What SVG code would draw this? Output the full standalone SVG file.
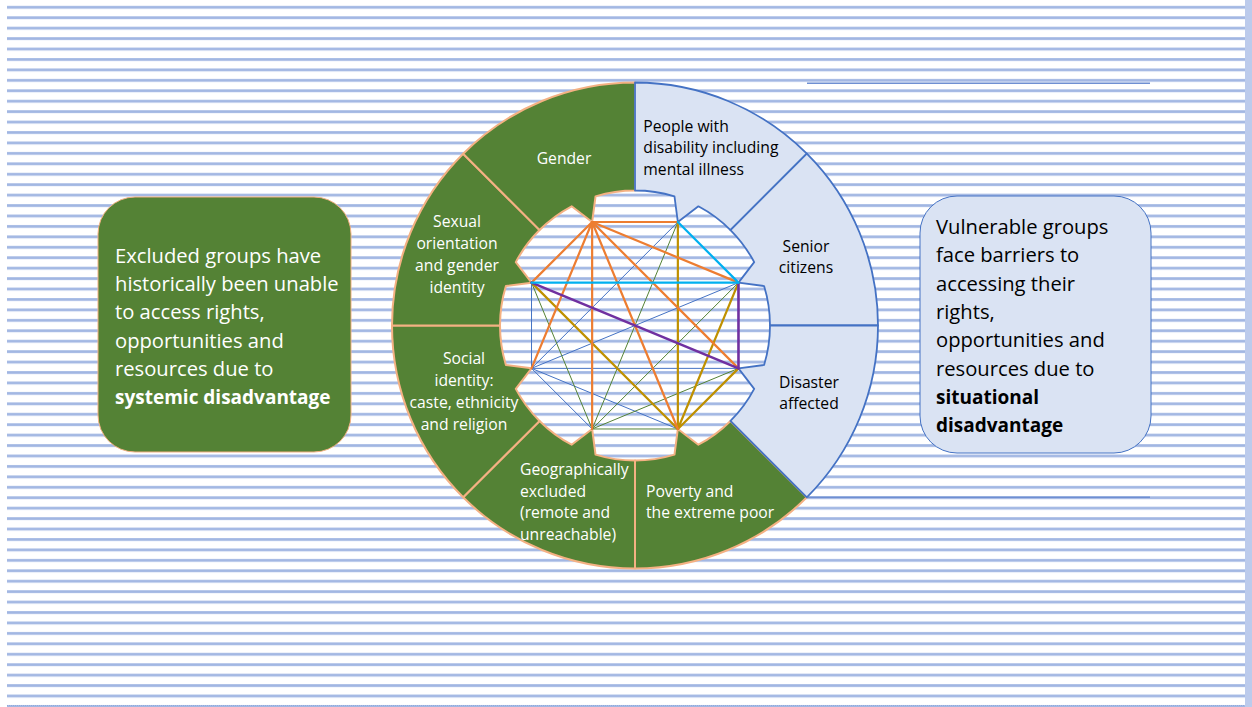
<svg xmlns="http://www.w3.org/2000/svg" width="1252" height="707" viewBox="0 0 1252 707">
  <defs>
    <pattern id="stripes" patternUnits="userSpaceOnUse" x="0" y="5.8" width="20" height="10.435">
      <rect x="0" y="0" width="20" height="3" fill="#b2c4e9"/>
      <rect x="0" y="0.6" width="20" height="1.8" fill="#a1b6e2"/>
    </pattern>
    <style>
      .g-sec { fill:#548235; stroke:#f4b183; stroke-width:2; stroke-linejoin:round; }
      .b-sec { fill:#dae3f3; stroke:#4472c4; stroke-width:1.8; stroke-linejoin:round; }
      .lbl { font-family:"Open Sans","Liberation Sans",sans-serif; font-size:15.7px; }
      .w { fill:#ffffff; }
      .k { fill:#000000; }
      .box-t { font-family:"Open Sans","Liberation Sans",sans-serif; font-size:20.2px; }
      .bold { font-weight:bold; font-size:19px; }
      .mid { text-anchor:middle; }
      .link { fill:none; stroke-linecap:round; }
      .thick { stroke-width:2.2; }
      .thin { stroke-width:1; }
      .or { stroke:#ed7d31; }
      .cy { stroke:#00b0f0; }
      .pu { stroke:#7030a0; stroke-width:2.6; }
      .go { stroke:#bf9000; }
      .bl { stroke:#4472c4; }
      .gr { stroke:#548235; }
      .rule { stroke:#6f8fd2; stroke-width:1.6; fill:none; }
    </style>
  </defs>

  <!-- page background with horizontal stripes -->
  <rect x="0" y="0" width="1252" height="707" fill="#ffffff"/>
  <rect x="7" y="0" width="1238" height="707" fill="url(#stripes)"/>
  <rect x="1245" y="0" width="7" height="707" fill="#bccbec"/>
  <line x1="7" y1="705.5" x2="1245" y2="705.5" stroke="#8faadc" stroke-width="1" stroke-dasharray="1 1"/>

  <!-- horizontal rules on the right -->
  <g id="rules">
    <line class="rule" x1="807" y1="83.3" x2="1150" y2="83.3"/>
    <line class="rule" x1="807" y1="497.3" x2="1150" y2="497.3"/>
  </g>

  <!-- left explanation box -->
  <g id="box-excluded">
    <rect x="98" y="197" width="253" height="255" rx="37" ry="37" fill="#548235" stroke="#f4b183" stroke-width="1"/>
    <text class="box-t w" x="115" y="262.7">Excluded groups have</text>
    <text class="box-t w" x="115" y="291">historically been unable</text>
    <text class="box-t w" x="115" y="319.3">to access rights,</text>
    <text class="box-t w" x="115" y="347.7">opportunities and</text>
    <text class="box-t w" x="115" y="376">resources due to</text>
    <text class="box-t w bold" x="115" y="404.3">systemic disadvantage</text>
  </g>

  <!-- right explanation box -->
  <g id="box-vulnerable">
    <rect x="920" y="196" width="231" height="257" rx="37" ry="37" fill="#dae3f3" stroke="#4472c4" stroke-width="1"/>
    <text class="box-t k" x="936" y="234">Vulnerable groups</text>
    <text class="box-t k" x="936" y="262.3">face barriers to</text>
    <text class="box-t k" x="936" y="290.6">accessing their</text>
    <text class="box-t k" x="936" y="318.9">rights,</text>
    <text class="box-t k" x="936" y="347.2">opportunities and</text>
    <text class="box-t k" x="936" y="375.5">resources due to</text>
    <text class="box-t k bold" x="936" y="403.8">situational</text>
    <text class="box-t k bold" x="936" y="432.1">disadvantage</text>
  </g>

  <!-- ring segments: excluded groups (green) -->
  <g id="seg-poverty">
    <path class="g-sec" d="M806.83,497.33 A243,243 0 0 1 635,568.5 L635,460.5 A135,135 0 0 0 674.47,454.6 L677.86,428.98 L698.38,444.7 A135,135 0 0 0 730.46,420.96 Z"/>
    <text class="lbl w" x="646" y="496.7">Poverty and</text>
    <text class="lbl w" x="646" y="518.3">the extreme poor</text>
  </g>
  <g id="seg-geographic">
    <path class="g-sec" d="M635,568.5 A243,243 0 0 1 463.17,497.33 L539.54,420.96 A135,135 0 0 0 571.62,444.7 L592.14,428.98 L595.53,454.6 A135,135 0 0 0 635,460.5 Z"/>
    <text class="lbl w" x="520" y="475">Geographically</text>
    <text class="lbl w" x="520" y="496.7">excluded</text>
    <text class="lbl w" x="520" y="518.3">(remote and</text>
    <text class="lbl w" x="520" y="540">unreachable)</text>
  </g>
  <g id="seg-social">
    <path class="g-sec" d="M463.17,497.33 A243,243 0 0 1 392,325.5 L500,325.5 A135,135 0 0 0 505.9,364.97 L531.52,368.36 L515.8,388.88 A135,135 0 0 0 539.54,420.96 Z"/>
    <text class="lbl w mid" x="464" y="364">Social</text>
    <text class="lbl w mid" x="464" y="386">identity:</text>
    <text class="lbl w mid" x="464" y="408.3">caste, ethnicity</text>
    <text class="lbl w mid" x="464" y="430">and religion</text>
  </g>
  <g id="seg-sexual">
    <path class="g-sec" d="M392,325.5 A243,243 0 0 1 463.17,153.67 L539.54,230.04 A135,135 0 0 0 515.8,262.12 L531.52,282.64 L505.9,286.03 A135,135 0 0 0 500,325.5 Z"/>
    <text class="lbl w mid" x="457" y="227.3">Sexual</text>
    <text class="lbl w mid" x="457" y="249.3">orientation</text>
    <text class="lbl w mid" x="457" y="271.3">and gender</text>
    <text class="lbl w mid" x="457" y="293.3">identity</text>
  </g>
  <g id="seg-gender">
    <path class="g-sec" d="M463.17,153.67 A243,243 0 0 1 635,82.5 L635,190.5 A135,135 0 0 0 595.53,196.4 L592.14,222.02 L571.62,206.3 A135,135 0 0 0 539.54,230.04 Z"/>
    <text class="lbl w mid" x="564" y="164.3">Gender</text>
  </g>

  <!-- ring segments: vulnerable groups (blue) -->
  <g id="seg-disability">
    <path class="b-sec" d="M635,82.5 A243,243 0 0 1 806.83,153.67 L730.46,230.04 A135,135 0 0 0 698.38,206.3 L677.86,222.02 L674.47,196.4 A135,135 0 0 0 635,190.5 Z"/>
    <text class="lbl k" x="643.3" y="131.7">People with</text>
    <text class="lbl k" x="643.3" y="153.3">disability including</text>
    <text class="lbl k" x="643.3" y="175">mental illness</text>
  </g>
  <g id="seg-senior">
    <path class="b-sec" d="M806.83,153.67 A243,243 0 0 1 878,325.5 L770,325.5 A135,135 0 0 0 764.1,286.03 L738.48,282.64 L754.2,262.12 A135,135 0 0 0 730.46,230.04 Z"/>
    <text class="lbl k mid" x="806" y="251.5">Senior</text>
    <text class="lbl k mid" x="806" y="273.3">citizens</text>
  </g>
  <g id="seg-disaster">
    <path class="b-sec" d="M878,325.5 A243,243 0 0 1 806.83,497.33 L730.46,420.96 A135,135 0 0 0 754.2,388.88 L738.48,368.36 L764.1,364.97 A135,135 0 0 0 770,325.5 Z"/>
    <text class="lbl k mid" x="809" y="387.5">Disaster</text>
    <text class="lbl k mid" x="809" y="409">affected</text>
  </g>

  <!-- intersection network between the eight groups -->
  <g id="connectors">
    <!-- social identity -->
    <g class="link thin bl">
      <line x1="531.52" y1="282.64" x2="531.52" y2="368.36"/>
      <line x1="677.86" y1="222.02" x2="531.52" y2="368.36"/>
      <line x1="738.48" y1="282.64" x2="531.52" y2="368.36"/>
      <line x1="738.48" y1="368.36" x2="531.52" y2="368.36"/>
      <line x1="677.86" y1="428.98" x2="531.52" y2="368.36"/>
      <line x1="592.14" y1="428.98" x2="531.52" y2="368.36"/>
    </g>
    <!-- geographic exclusion -->
    <g class="link thin gr">
      <line x1="531.52" y1="282.64" x2="592.14" y2="428.98"/>
      <line x1="677.86" y1="222.02" x2="592.14" y2="428.98"/>
      <line x1="738.48" y1="282.64" x2="592.14" y2="428.98"/>
      <line x1="738.48" y1="368.36" x2="592.14" y2="428.98"/>
      <line x1="677.86" y1="428.98" x2="592.14" y2="428.98"/>
    </g>
    <!-- poverty -->
    <g class="link thick go">
      <line x1="677.86" y1="222.02" x2="677.86" y2="428.98"/>
      <line x1="531.52" y1="282.64" x2="677.86" y2="428.98"/>
      <line x1="738.48" y1="282.64" x2="677.86" y2="428.98"/>
      <line x1="738.48" y1="368.36" x2="677.86" y2="428.98"/>
    </g>
    <!-- gender -->
    <g class="link thick or">
      <line x1="592.14" y1="222.02" x2="677.86" y2="222.02"/>
      <line x1="592.14" y1="222.02" x2="738.48" y2="282.64"/>
      <line x1="592.14" y1="222.02" x2="738.48" y2="368.36"/>
      <line x1="592.14" y1="222.02" x2="677.86" y2="428.98"/>
      <line x1="592.14" y1="222.02" x2="592.14" y2="428.98"/>
      <line x1="592.14" y1="222.02" x2="531.52" y2="368.36"/>
      <line x1="592.14" y1="222.02" x2="531.52" y2="282.64"/>
    </g>
    <!-- disaster -->
    <g class="link pu">
      <line x1="531.52" y1="282.64" x2="738.48" y2="368.36"/>
      <line x1="738.48" y1="282.64" x2="738.48" y2="368.36"/>
    </g>
    <!-- senior citizens -->
    <g class="link thick cy">
      <line x1="531.52" y1="282.64" x2="738.48" y2="282.64"/>
      <line x1="677.86" y1="222.02" x2="738.48" y2="282.64"/>
    </g>
  </g>
</svg>
